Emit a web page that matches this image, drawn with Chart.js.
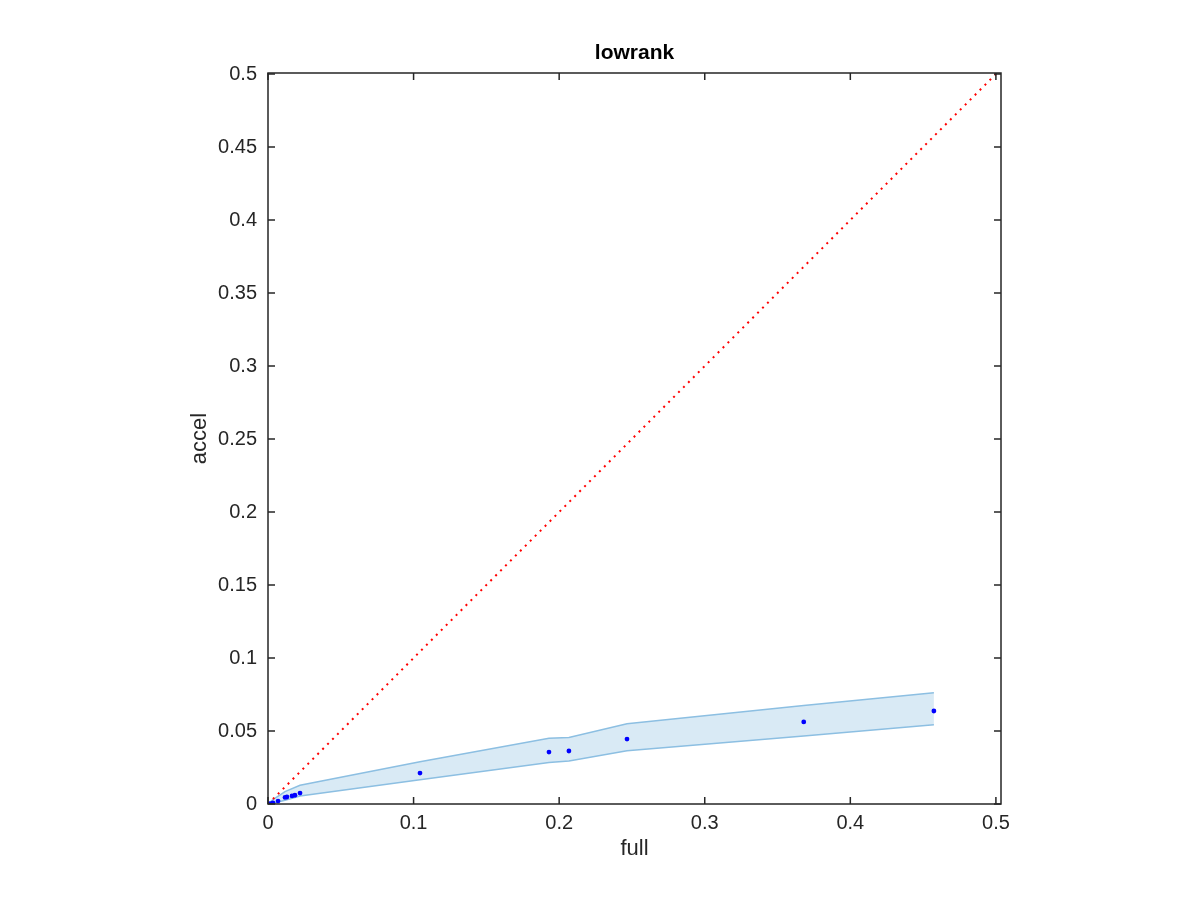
<!DOCTYPE html>
<html>
<head>
<meta charset="utf-8">
<script src="https://cdn.jsdelivr.net/npm/chart.js@4/dist/chart.umd.min.js"></script>
<style>
  html, body { margin: 0; padding: 0; background: #fff; }
  #wrap { width: 1200px; height: 900px; }
</style>
</head>
<body>
<div id="wrap"><canvas id="graphCanvas" width="1200" height="900"></canvas></div>
<script>
// measured points (full vs accel)
var fullVals  = [0.0014, 0.0034, 0.0069, 0.0117, 0.0130, 0.0165, 0.0185, 0.0220, 0.1044, 0.1930, 0.2067, 0.2466, 0.3680, 0.4574];
var accelVals = [0.0003, 0.0007, 0.0020, 0.0045, 0.0048, 0.0055, 0.0060, 0.0075, 0.0212, 0.0356, 0.0363, 0.0445, 0.0562, 0.0637];

// band edges
var bandX     = [0.0, 0.0034, 0.0117, 0.0220, 0.1044, 0.1930, 0.2067, 0.2466, 0.3680, 0.4574];
var bandUpper = [0.0, 0.0030, 0.0085, 0.0128, 0.0290, 0.0450, 0.0455, 0.0550, 0.0675, 0.0762];
var bandLower = [0.0, 0.0005, 0.0025, 0.0055, 0.0166, 0.0285, 0.0295, 0.0365, 0.0466, 0.0543];

// y = x reference line
var diagX = [0, 0.6];

var xTicks = [0, 0.1, 0.2, 0.3, 0.4, 0.5];
var yTicks = [0, 0.05, 0.1, 0.15, 0.2, 0.25, 0.3, 0.35, 0.4, 0.45, 0.5];

var titleText = 'lowrank';

function pts(xs, ys) {
  return xs.map(function(x, i) { return { x: x, y: ys[i] }; });
}

var axisColor = '#262626';
var fontFam = '"Liberation Sans", Arial, Helvetica, sans-serif';

// box + inward ticks on all four sides (matlab style), title centred on the axes
var boxPlugin = {
  id: 'box',
  afterDraw: function(chart) {
    var c = chart.ctx, a = chart.chartArea;
    var xs = chart.scales.x, ys = chart.scales.y;
    var len = 7;
    c.save();
    c.strokeStyle = axisColor;
    c.lineWidth = 1.5;
    c.strokeRect(a.left, a.top, a.right - a.left, a.bottom - a.top);
    c.beginPath();
    xTicks.forEach(function(v) {
      var px = xs.getPixelForValue(v);
      c.moveTo(px, a.bottom); c.lineTo(px, a.bottom - len);
      c.moveTo(px, a.top); c.lineTo(px, a.top + len);
    });
    yTicks.forEach(function(v) {
      var py = ys.getPixelForValue(v);
      c.moveTo(a.left, py); c.lineTo(a.left + len, py);
      c.moveTo(a.right, py); c.lineTo(a.right - len, py);
    });
    c.stroke();

    c.fillStyle = '#000';
    c.font = 'bold 21px ' + fontFam;
    c.textAlign = 'center';
    c.textBaseline = 'alphabetic';
    c.fillText(titleText, (a.left + a.right) / 2, 59);
    c.restore();
  }
};

var ctx = document.getElementById('graphCanvas').getContext('2d');

new Chart(ctx, {
  type: 'scatter',
  data: {
    datasets: [
      {
        label: 'lower',
        type: 'line',
        data: pts(bandX, bandLower),
        borderColor: '#8cbfe2',
        borderWidth: 1.5,
        pointRadius: 0,
        fill: false,
        order: 3
      },
      {
        label: 'upper',
        type: 'line',
        data: pts(bandX, bandUpper),
        borderColor: '#8cbfe2',
        borderWidth: 1.5,
        backgroundColor: 'rgba(0, 114, 189, 0.15)',
        pointRadius: 0,
        fill: '-1',
        order: 3
      },
      {
        label: 'diag',
        type: 'line',
        data: pts(diagX, diagX),
        borderColor: '#ff0000',
        borderWidth: 2,
        borderDash: [2, 5],
        pointRadius: 0,
        fill: false,
        order: 2
      },
      {
        label: 'points',
        data: pts(fullVals, accelVals),
        backgroundColor: '#0000ff',
        borderColor: '#0000ff',
        pointRadius: 2.4,
        borderWidth: 0,
        order: 1
      }
    ]
  },
  options: {
    responsive: false,
    animation: false,
    layout: {
      padding: { left: 183, right: 199, top: 73, bottom: 34 }
    },
    plugins: {
      legend: { display: false },
      tooltip: { enabled: false },
      title: { display: false }
    },
    scales: {
      x: {
        type: 'linear',
        min: 0,
        max: 0.5035,
        afterBuildTicks: function(scale) {
          scale.ticks = xTicks.map(function(v) { return { value: v }; });
        },
        afterFit: function(scale) { scale.height = 62; },
        grid: { display: false, drawTicks: false },
        border: { display: false },
        ticks: {
          color: axisColor,
          padding: 7,
          maxRotation: 0,
          font: { family: fontFam, size: 20 },
          callback: function(v) { return String(Math.round(v * 100) / 100); }
        },
        title: {
          display: true,
          text: 'full',
          color: axisColor,
          font: { family: fontFam, size: 22 },
          padding: 4
        }
      },
      y: {
        type: 'linear',
        min: 0,
        max: 0.5007,
        afterBuildTicks: function(scale) {
          scale.ticks = yTicks.map(function(v) { return { value: v }; });
        },
        afterFit: function(scale) { scale.width = 85; },
        grid: { display: false, drawTicks: false },
        border: { display: false },
        ticks: {
          color: axisColor,
          padding: 11,
          font: { family: fontFam, size: 20 },
          callback: function(v) { return String(Math.round(v * 1000) / 1000); }
        },
        title: {
          display: true,
          text: 'accel',
          color: axisColor,
          font: { family: fontFam, size: 22 },
          padding: 4
        }
      }
    }
  },
  plugins: [boxPlugin]
});
</script>
</body>
</html>
